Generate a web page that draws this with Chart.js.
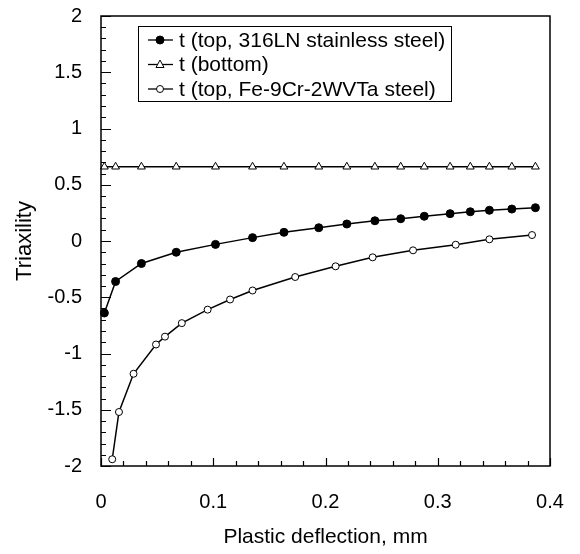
<!DOCTYPE html>
<html lang="en">
<head>
    <meta charset="UTF-8">
    <title>Triaxility vs plastic deflection</title>
    <script src="https://cdn.jsdelivr.net/npm/chart.js"></script>
    <style>
        html, body { margin: 0; padding: 0; background: #fff; }
        #wrap { width: 580px; height: 554px; position: relative; }
    </style>
</head>
<body>
    <div id="wrap"><canvas id="triChart"></canvas></div>

    <script>
        // deflection values (mm) shared by the 316LN and bottom series
        const deflection = [0.003, 0.013, 0.036, 0.067, 0.102, 0.135, 0.163, 0.194, 0.219,
                            0.244, 0.267, 0.288, 0.311, 0.329, 0.346, 0.366, 0.387];
        const topSS = [-0.64, -0.36, -0.20, -0.10, -0.03, 0.03, 0.077, 0.118, 0.151,
                       0.180, 0.198, 0.220, 0.243, 0.260, 0.273, 0.284, 0.296];
        const bottom = [0.66, 0.66, 0.66, 0.66, 0.66, 0.66, 0.66, 0.66, 0.66,
                        0.66, 0.66, 0.66, 0.66, 0.66, 0.66, 0.66, 0.66];
        // Fe-9Cr-2WVTa series has its own x positions
        const deflectionFe = [0.010, 0.016, 0.029, 0.049, 0.057, 0.072, 0.095, 0.115,
                              0.135, 0.173, 0.209, 0.242, 0.278, 0.316, 0.346, 0.384];
        const topFe = [-1.94, -1.52, -1.18, -0.92, -0.85, -0.73, -0.61, -0.52,
                       -0.44, -0.32, -0.225, -0.145, -0.083, -0.033, 0.015, 0.053];
        const xTicks = [0, 0.1, 0.2, 0.3, 0.4];
        const yTicks = [-2, -1.5, -1, -0.5, 0, 0.5, 1, 1.5, 2];
        const seriesNames = ["t (top, 316LN stainless steel)", "t (bottom)", "t (top, Fe-9Cr-2WVTa steel)"];

        const FONT = "'Liberation Sans', Arial, sans-serif";

        function pts(xs, ys) {
            return xs.map((x, i) => ({ x: x, y: ys[i] }));
        }

        function noPad(s) {
            s.paddingTop = 0; s.paddingBottom = 0;
            s.paddingLeft = 0; s.paddingRight = 0;
        }

        // draw the frame and inward ticks
        const frame = {
            id: "frame",
            afterDraw(chart) {
                const c = chart.ctx, a = chart.chartArea;
                const xs = chart.scales.x, ys = chart.scales.y;
                c.save();
                c.strokeStyle = "#000";
                c.lineWidth = 1.5;
                c.strokeRect(a.left, a.top, a.right - a.left, a.bottom - a.top);
                c.lineWidth = 1.2;
                c.beginPath();
                for (let i = 0; i <= 20; i++) {
                    const v = i * 0.02;
                    const px = Math.round(xs.getPixelForValue(v)) + 0.5;
                    const len = (i % 5 === 0) ? 8 : 5;
                    c.moveTo(px, a.bottom);
                    c.lineTo(px, a.bottom - len);
                }
                for (let i = 0; i <= 40; i++) {
                    const v = -2 + i * 0.1;
                    const py = Math.round(ys.getPixelForValue(v)) + 0.5;
                    const len = (i % 5 === 0) ? 10 : 5;
                    c.moveTo(a.left, py);
                    c.lineTo(a.left + len, py);
                }
                c.stroke();
                c.restore();
            }
        };

        function marker(c, kind, x, y) {
            c.beginPath();
            if (kind === "tri") {
                c.moveTo(x, y - 4.5);
                c.lineTo(x + 4, y + 3);
                c.lineTo(x - 4, y + 3);
                c.closePath();
                c.fillStyle = "#fff";
            } else {
                c.arc(x, y, kind === "dot" ? 4 : 3.5, 0, Math.PI * 2);
                c.fillStyle = kind === "dot" ? "#000" : "#fff";
            }
            c.fill();
            c.stroke();
        }

        const legendBox = {
            id: "legendBox",
            afterDraw(chart) {
                const c = chart.ctx;
                const kinds = ["dot", "tri", "ring"];
                c.save();
                c.strokeStyle = "#000";
                c.lineWidth = 1;
                c.fillStyle = "#fff";
                c.fillRect(138, 26, 313, 75);
                c.strokeRect(138.5, 26.5, 313, 75);
                c.font = "21px " + FONT;
                c.textBaseline = "middle";
                seriesNames.forEach((name, i) => {
                    const y = 40 + i * 24.5;
                    c.lineWidth = 1.3;
                    c.beginPath();
                    c.moveTo(148, y);
                    c.lineTo(173, y);
                    c.stroke();
                    c.lineWidth = 1;
                    marker(c, kinds[i], 160, y);
                    c.fillStyle = "#000";
                    c.fillText(name, 179, y + 1);
                });
                c.restore();
            }
        };

        const common = {
            borderColor: "#000",
            borderWidth: 1.5,
            pointBorderColor: "#000",
            pointBorderWidth: 1,
            pointRadius: 4,
            tension: 0,
            clip: false
        };

        new Chart(document.getElementById("triChart"), {
            type: "line",
            data: {
                datasets: [
                    Object.assign({}, common, {
                        label: seriesNames[0], data: pts(deflection, topSS),
                        pointStyle: "circle", pointBackgroundColor: "#000"
                    }),
                    Object.assign({}, common, {
                        label: seriesNames[1], data: pts(deflection, bottom),
                        pointStyle: "triangle", pointBackgroundColor: "#fff", pointRadius: 4.5
                    }),
                    Object.assign({}, common, {
                        label: seriesNames[2], data: pts(deflectionFe, topFe),
                        pointStyle: "circle", pointBackgroundColor: "#fff", pointRadius: 3.5
                    })
                ]
            },
            options: {
                responsive: true,
                maintainAspectRatio: false,
                animation: false,
                layout: { padding: { top: 16, right: 30, left: 0, bottom: 0 } },
                plugins: { legend: { display: false }, tooltip: { enabled: false } },
                scales: {
                    x: {
                        type: "linear", min: 0, max: 0.4,
                        afterFit(s) { s.height = 88; noPad(s); },
                        afterBuildTicks(s) { s.ticks = xTicks.map(v => ({ value: v })); },
                        grid: { display: false, drawTicks: false },
                        border: { display: false },
                        ticks: {
                            padding: 24, color: "#000",
                            font: { family: FONT, size: 20 },
                            callback: v => String(v)
                        },
                        title: {
                            display: true, text: "Plastic deflection, mm", color: "#000",
                            font: { family: FONT, size: 21 }, padding: { top: 6 }
                        }
                    },
                    y: {
                        type: "linear", min: -2, max: 2,
                        afterFit(s) { s.width = 101; noPad(s); },
                        afterBuildTicks(s) { s.ticks = yTicks.map(v => ({ value: v })); },
                        grid: { display: false, drawTicks: false },
                        border: { display: false },
                        ticks: {
                            padding: 19, color: "#000",
                            font: { family: FONT, size: 20 },
                            callback: v => String(v)
                        },
                        title: {
                            display: true, text: "Triaxility", color: "#000",
                            font: { family: FONT, size: 22 }, padding: { bottom: 0, top: 12 }
                        }
                    }
                }
            },
            plugins: [frame, legendBox]
        });
    </script>
</body>
</html>
